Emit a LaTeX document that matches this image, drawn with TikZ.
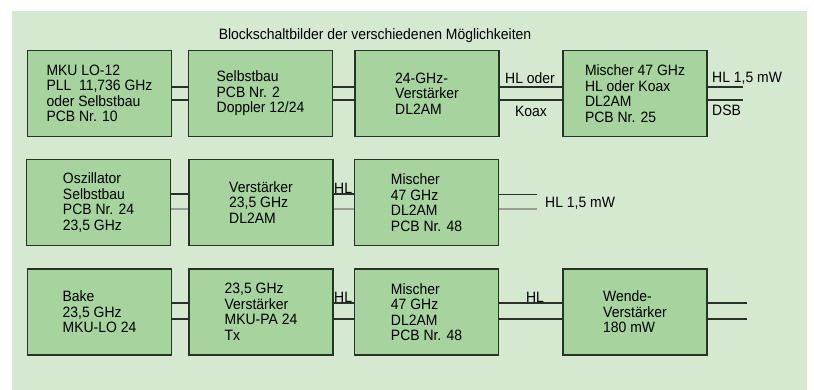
\documentclass[tikz,border=0pt]{standalone}
\usepackage{fontspec}
\setmainfont{Liberation Sans}[FakeStretch=0.93]
\usepackage{xcolor}
\usepackage{tikz}
\definecolor{PanelGreen}{RGB}{213,233,209}
\definecolor{BoxGreen}{RGB}{166,211,158}
\definecolor{LineDark}{RGB}{40,50,40}
\definecolor{LineLight}{RGB}{150,162,150}

\begin{document}
\begin{tikzpicture}[x=1pt, y=-1pt,
		block/.style={draw=LineDark, line width=1.6pt, fill=BoxGreen, minimum width=144pt, minimum height=86pt, inner sep=0pt, align=left, font=\fontsize{15}{15.5}\selectfont},
		wire/.style={LineDark, line width=1.3pt},
		wirelight/.style={LineLight, line width=1.3pt},
		lbl/.style={inner sep=0pt, font=\fontsize{15}{15.5}\selectfont}]
			\useasboundingbox (0,0) rectangle (814,390);
			\fill[PanelGreen] (12,11) rectangle (807,390);
			\node[lbl] (titel) at (375,36) {Blockschaltbilder der verschiedenen Möglichkeiten};
			\node[block] (mku) at (99.5,93.5) {MKU LO-12\\PLL\ \ 11,736 GHz\\oder Selbstbau\\PCB Nr. 10};
			\node[block] (doppler) at (260.5,93.5) {Selbstbau\\PCB Nr. 2\\Doppler 12/24};
			\node[block] (verstA) at (427,93.5) {24-GHz-\\Verstärker\\DL2AM};
			\node[block] (mischA) at (635,93.5) {Mischer 47 GHz\\HL oder Koax\\DL2AM\\PCB Nr. 25};
			\node[block] (oszi) at (98.5,202.5) {Oszillator\\Selbstbau\\PCB Nr. 24\\23,5 GHz};
			\node[block] (verstB) at (261,202.5) {Verstärker\\23,5 GHz\\DL2AM};
			\node[block] (mischB) at (426.5,202.5) {Mischer\\47 GHz\\DL2AM\\PCB Nr. 48};
			\node[block] (bake) at (99.5,312) {Bake\\23,5 GHz\\MKU-LO 24};
			\node[block] (pa) at (261,312) {23,5 GHz\\Verstärker\\MKU-PA 24\\Tx};
			\node[block] (mischC) at (426.5,312) {Mischer\\47 GHz\\DL2AM\\PCB Nr. 48};
			\node[block] (wende) at (635,312) {Wende-\\Verstärker\\180 mW};
			\coordinate (ausA) at (743,93.5);
			\coordinate (ausB) at (537,202.5);
			\coordinate (ausC) at (747,312);
			\draw[wire] ([yshift=6.5pt]mku.east) -- ([yshift=6.5pt]doppler.west);
			\draw[wire] ([yshift=-6.5pt]mku.east) -- ([yshift=-6.5pt]doppler.west);
			\draw[wire] ([yshift=6.5pt]doppler.east) -- ([yshift=6.5pt]verstA.west);
			\draw[wire] ([yshift=-6.5pt]doppler.east) -- ([yshift=-6.5pt]verstA.west);
			\draw[wire] ([yshift=6.5pt]verstA.east) -- ([yshift=6.5pt]mischA.west);
			\draw[wire] ([yshift=-6.5pt]verstA.east) -- ([yshift=-6.5pt]mischA.west);
			\draw[wire] ([yshift=6.5pt]mischA.east) -- ([yshift=6.5pt]ausA);
			\draw[wire] ([yshift=-6.5pt]mischA.east) -- ([yshift=-6.5pt]ausA);
			\draw[wire] ([yshift=8.5pt]oszi.east) -- ([yshift=8.5pt]verstB.west);
			\draw[wirelight] ([yshift=-6.5pt]oszi.east) -- ([yshift=-6.5pt]verstB.west);
			\draw[wire] ([yshift=8.5pt]verstB.east) -- ([yshift=8.5pt]mischB.west);
			\draw[wirelight] ([yshift=-6.5pt]verstB.east) -- ([yshift=-6.5pt]mischB.west);
			\draw[wire] ([yshift=8pt]mischB.east) -- ([yshift=8pt]ausB);
			\draw[wirelight] ([yshift=-6.5pt]mischB.east) -- ([yshift=-6.5pt]ausB);
			\draw[wire] ([yshift=9pt]bake.east) -- ([yshift=9pt]pa.west);
			\draw[wire] ([yshift=-7pt]bake.east) -- ([yshift=-7pt]pa.west);
			\draw[wire] ([yshift=9pt]pa.east) -- ([yshift=9pt]mischC.west);
			\draw[wire] ([yshift=-7pt]pa.east) -- ([yshift=-7pt]mischC.west);
			\draw[wire] ([yshift=9pt]mischC.east) -- ([yshift=9pt]wende.west);
			\draw[wire] ([yshift=-7pt]mischC.east) -- ([yshift=-7pt]wende.west);
			\draw[wire] ([yshift=9pt]wende.east) -- ([yshift=9pt]ausC);
			\draw[wire] ([yshift=-7pt]wende.east) -- ([yshift=-7pt]ausC);
			\node[lbl] (hloder) at (530,78) {HL oder};
			\node[lbl] (koax) at (531,111) {Koax};
			\node[lbl, anchor=west] (hlA) at (712,78) {HL 1,5 mW};
			\node[lbl, anchor=west] (dsb) at (712,110) {DSB};
			\node[lbl, anchor=west] (hlB) at (334,188) {HL};
			\node[lbl, anchor=west] (hlausB) at (545,203) {HL 1,5 mW};
			\node[lbl, anchor=west] (hlC) at (334,297) {HL};
			\node[lbl] (hlwende) at (535,297) {HL};
		\end{tikzpicture}
\end{document}
